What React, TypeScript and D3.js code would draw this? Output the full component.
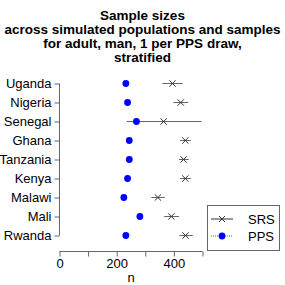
import React, { useEffect, useRef } from 'react'
import { select, scaleLinear, scalePoint, axisBottom, axisLeft } from 'd3'

const countries = ['Uganda', 'Nigeria', 'Senegal', 'Ghana', 'Tanzania', 'Kenya', 'Malawi', 'Mali', 'Rwanda']
const srsMean = [395, 424, 364, 440, 434, 440, 344, 391, 441]
const srsLow = [360, 398, 235, 421, 418, 422, 321, 366, 419]
const srsHigh = [431, 450, 497, 459, 452, 459, 368, 418, 466]
const ppsMean = [232, 238, 269, 244, 244, 238, 225, 281, 232]
const titleLines = ['Sample sizes', 'across simulated populations and samples', 'for adult, man, 1 per PPS draw,', 'stratified']
const xTicks = [0, 200, 400]
const xMinorTicks = [100, 300, 500]

export default function App() {
    const ref = useRef<SVGSVGElement>(null)

    useEffect(() => {
        const svg = select(ref.current)
        svg.selectAll('*').remove()
        const font = 'Liberation Sans, Arial, sans-serif'
        const axisColor = '#666'

        svg.append('rect').attr('width', 285).attr('height', 285).attr('fill', 'white')

        // title
        svg.append('g').selectAll('text').data(titleLines).enter().append('text')
            .attr('x', 142.5)
            .attr('y', (d, i) => 20 + i * 13.9)
            .attr('text-anchor', 'middle')
            .attr('font-family', font)
            .attr('font-weight', 'bold')
            .attr('font-size', 13.5)
            .text(d => d)

        const xScale = scaleLinear().domain([0, 500]).range([59.5, 202.5])
        const yScale = scalePoint<string>().domain(countries).range([83.5, 235.5])

        // x axis
        const xAxisG = svg.append('g').attr('transform', 'translate(0,251.5)')
        xAxisG.call(axisBottom(xScale).tickValues(xTicks).tickSize(5).tickPadding(2).tickFormat(d => String(d)))
        xAxisG.call(g => g.append('g').selectAll('line').data(xMinorTicks).enter().append('line')
            .attr('x1', d => xScale(d) + 0.5).attr('x2', d => xScale(d) + 0.5)
            .attr('y1', 0).attr('y2', 5).attr('stroke', axisColor))
        xAxisG.select('.domain').attr('d', `M${xScale(0)},0H${xScale(500)}`).attr('stroke', axisColor)
        xAxisG.selectAll('.tick line').attr('stroke', axisColor)
        xAxisG.selectAll('.tick text').attr('font-family', font).attr('font-size', 13).attr('fill', 'black')

        svg.append('text')
            .attr('x', (xScale(0) + xScale(500)) / 2)
            .attr('y', 282)
            .attr('text-anchor', 'middle')
            .attr('font-family', font)
            .attr('font-size', 13)
            .text('n')

        // y axis
        const yAxisG = svg.append('g').attr('transform', 'translate(59.5,0)')
        yAxisG.call(axisLeft(yScale).tickSize(5).tickPadding(3))
        yAxisG.select('.domain').attr('d', `M0,${yScale(countries[0])}V${yScale(countries[countries.length - 1])}`).attr('stroke', axisColor)
        yAxisG.selectAll('.tick line').attr('stroke', axisColor)
        yAxisG.selectAll('.tick text').attr('font-family', font).attr('font-size', 13).attr('fill', 'black')

        const plot = svg.append('g')

        // SRS ranges
        plot.selectAll('.srs-range').data(countries).enter().append('line')
            .attr('class', 'srs-range')
            .attr('x1', (d, i) => xScale(srsLow[i]))
            .attr('x2', (d, i) => xScale(srsHigh[i]))
            .attr('y1', d => yScale(d))
            .attr('y2', d => yScale(d))
            .attr('stroke', '#666')
            .attr('stroke-width', 1)

        const cross = (x: number, y: number, s: number) => `M${x - s},${y - s}L${x + s},${y + s}M${x - s},${y + s}L${x + s},${y - s}`

        plot.selectAll('.srs-mark').data(countries).enter().append('path')
            .attr('class', 'srs-mark')
            .attr('d', (d, i) => cross(xScale(srsMean[i]), yScale(d), 3.2))
            .attr('stroke', '#333')
            .attr('stroke-width', 1)
            .attr('fill', 'none')

        plot.selectAll('.pps-mark').data(countries).enter().append('circle')
            .attr('class', 'pps-mark')
            .attr('cx', (d, i) => xScale(ppsMean[i]))
            .attr('cy', d => yScale(d))
            .attr('r', 3.4)
            .attr('fill', '#0000ff')

        // legend
        const legend = svg.append('g')
        legend.append('rect')
            .attr('x', 207.5).attr('y', 205.5).attr('width', 72).attr('height', 45)
            .attr('fill', 'white').attr('stroke', axisColor)
        legend.append('line').attr('x1', 211).attr('x2', 233).attr('y1', 219).attr('y2', 219).attr('stroke', '#333')
        legend.append('path').attr('d', cross(222, 219, 3)).attr('stroke', '#333')
        legend.append('line').attr('x1', 211).attr('x2', 233).attr('y1', 236).attr('y2', 236)
            .attr('stroke', '#5555ff').attr('stroke-dasharray', '1,1')
        legend.append('circle').attr('cx', 222).attr('cy', 236).attr('r', 3.4).attr('fill', '#0000ff')
        legend.selectAll('.legend-text').data(['SRS', 'PPS']).enter().append('text')
            .attr('class', 'legend-text')
            .attr('x', 248)
            .attr('y', (d, i) => 223.5 + i * 17.5)
            .attr('font-family', font)
            .attr('font-size', 13)
            .text(d => d)
    }, [])

    return <svg ref={ref} width={285} height={285} style={{ position: 'absolute', left: 0, top: 0 }} />
}
